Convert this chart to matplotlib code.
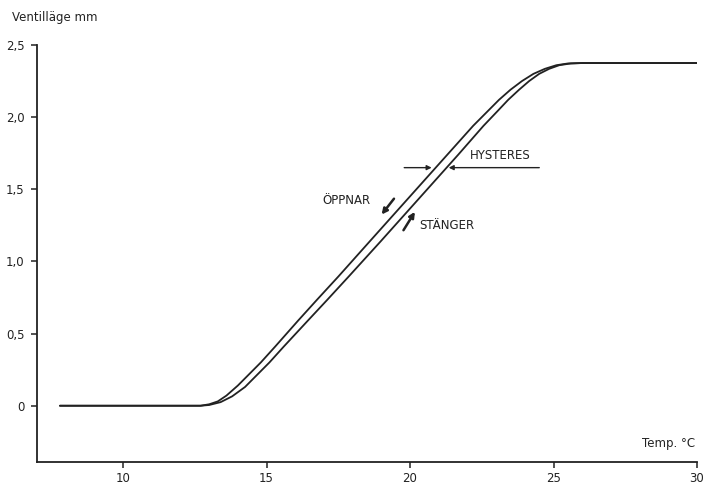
import matplotlib
matplotlib.use("Agg")
import matplotlib.pyplot as plt

# valve lift vs temperature, opening and closing branches
temp_open = [7.8, 12.7, 13.0, 13.3, 13.6, 14.0, 14.4, 14.8, 15.3, 16.1, 16.76, 17.5,
             18.6, 19.5, 20.4, 21.3, 22.2, 22.7, 23.1, 23.5, 23.9, 24.3, 24.7,
             25.1, 25.5, 26.0, 30.0]
lift_open = [0.0, 0.0, 0.01, 0.03, 0.07, 0.14, 0.22, 0.30, 0.41, 0.59, 0.735, 0.895,
             1.14, 1.34, 1.54, 1.74, 1.94, 2.04, 2.12, 2.19, 2.25, 2.30, 2.335,
             2.36, 2.372, 2.375, 2.375]

temp_close = [7.8, 12.7, 13.0, 13.4, 13.8, 14.25, 14.65, 15.1, 15.6, 16.44, 17.12, 17.86,
              18.98, 19.88, 20.78, 21.68, 22.56, 23.04, 23.42, 23.8, 24.15, 24.5, 24.85,
              25.2, 25.6, 26.0, 30.0]
lift_close = [0.0, 0.0, 0.005, 0.025, 0.065, 0.13, 0.21, 0.30, 0.41, 0.59, 0.735, 0.895,
              1.14, 1.34, 1.54, 1.74, 1.94, 2.04, 2.12, 2.19, 2.25, 2.30, 2.335,
              2.36, 2.372, 2.375, 2.375]

x_ticks = [10, 15, 20, 25, 30]
y_ticks = [0, 0.5, 1.0, 1.5, 2.0, 2.5]
y_tick_labels = ["0", "0,5", "1,0", "1,5", "2,0", "2,5"]

ink = "#222222"
plt.rcParams["font.family"] = ["DejaVu Sans"]

fig = plt.figure(figsize=(7.08, 4.84), dpi=100)
ax = fig.add_axes([37 / 708, 22 / 484, 660 / 708, 417 / 484])

for t, v in ((temp_open, lift_open), (temp_close, lift_close)):
    ax.plot(t, v, color=ink, lw=1.3, solid_joinstyle="round", solid_capstyle="round")

ax.set_xlim(7, 30)
ax.set_ylim(-0.39, 2.5)
ax.set_xticks(x_ticks)
ax.set_yticks(y_ticks)
ax.set_yticklabels(y_tick_labels)

for side in ("top", "right"):
    ax.spines[side].set_visible(False)
for side in ("left", "bottom"):
    ax.spines[side].set_color(ink)
    ax.spines[side].set_linewidth(1.3)
ax.tick_params(direction="out", length=4, width=1.1, color=ink,
               labelsize=8.5, labelcolor=ink)
ax.tick_params(axis="y", pad=5)
ax.tick_params(axis="x", pad=3)

# axis titles
fig.text(12 / 708, 1 - 17 / 484, "Ventilläge mm", fontsize=8.5, color=ink,
         va="center", ha="left")
ax.text(29.95, -0.26, "Temp. °C", fontsize=8.5, color=ink, ha="right", va="center")

# hysteresis markers
arrow_kw = dict(arrowstyle="-|>", color=ink, lw=1.0, mutation_scale=7)
ax.annotate("", xy=(20.85, 1.65), xytext=(19.7, 1.65), arrowprops=arrow_kw)
ax.annotate("", xy=(21.25, 1.65), xytext=(24.6, 1.65), arrowprops=arrow_kw)
ax.text(22.1, 1.69, "HYSTERES", fontsize=8.5, color=ink, ha="left", va="bottom")

# direction arrows
dir_kw = dict(arrowstyle="-|>", color=ink, lw=1.8, mutation_scale=8)
ax.annotate("", xy=(18.95, 1.31), xytext=(19.5, 1.45), arrowprops=dir_kw)
ax.text(16.93, 1.42, "ÖPPNAR", fontsize=8.5, color=ink, ha="left", va="center")
ax.annotate("", xy=(20.22, 1.36), xytext=(19.72, 1.20), arrowprops=dir_kw)
ax.text(20.31, 1.25, "STÄNGER", fontsize=8.5, color=ink, ha="left", va="center")

fig.savefig("out.png", dpi=100, facecolor="white")
